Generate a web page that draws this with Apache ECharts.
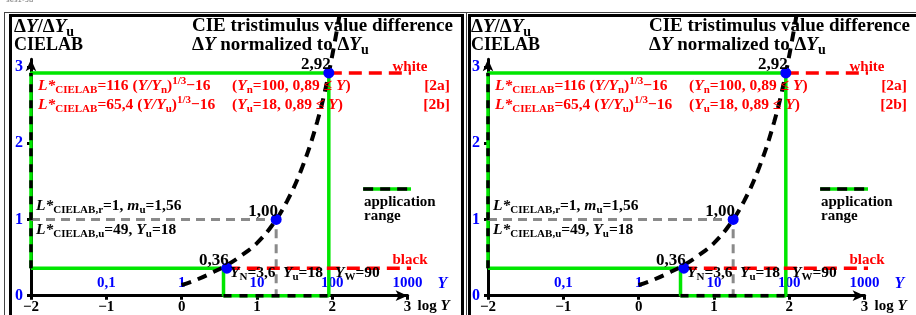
<!DOCTYPE html>
<html>
<head>
<meta charset="utf-8">
<script src="https://cdn.jsdelivr.net/npm/echarts@6/dist/echarts.min.js"></script>
<style>
  html, body { margin: 0; padding: 0; background: #fff; }
  #chart { width: 916px; height: 315px; }
</style>
</head>
<body>
<div id="chart"></div>
<script>
// values (x = log Y, y = dY/dYu)
const logYTicks = [-2, -1, 0, 1, 2, 3];
const logYLabels = ['\u22122', '\u22121', '0', '1', '2', '3'];
const yTicks = [0, 1, 2, 3];
const linearYTicks = [-1, 0, 1, 2, 3];
const linearYLabels = ['0,1', '1', '10', '100', '1000'];

const curveLogY = [0.0, 0.2, 0.4, 0.6, 0.8, 1.0, 1.2, 1.4, 1.6, 1.8, 1.95, 2.1];
const curveRatio = [0.14, 0.21, 0.30, 0.40, 0.53, 0.69, 0.92, 1.24, 1.68, 2.28, 2.90, 3.70];

const pointLogY = [0.6, 1.255, 1.954];
const pointRatio = [0.36, 1.00, 2.92];
const pointLabels = ['0,36', '1,00', '2,92'];

// application range outline
const rangeLogY = [-2, 0.556, 0.556, 1.954, 1.954, -2, -2];
const rangeRatio = [0.36, 0.36, 0, 0, 2.92, 2.92, 0.36];
const rangeOnYAxis = [[-2, 0.36], [-2, 2.92]];
const rangeOnXAxis = [[0.556, 0], [1.954, 0]];

const whiteLevel = [[1.954, 2.92], [3.5, 2.92]];
const blackLevel = [[0.6, 0.36], [3.5, 0.36]];
const greyGuide = [[-2, 1], [1.255, 1], [1.255, 0]];
const legendSample = [[2.41, 1.40], [3.43, 1.40]];

const FONT = 'Liberation Serif';
const GREEN = '#00e600', RED = '#ff0000', BLUE = '#0000ff', GREY = '#8a8a8a';
const PANEL_DX = [0, 457];
const X0 = 31, XW = 376.6, Y0 = 295.7, YPX = 76.3, YMAX = 3.1;

const zip = (a, b) => a.map((v, k) => [v, b[k]]);

// rich styles for zrender text (graphic)
function richZ(color, size) {
    const s = Math.round(size * 0.72);
    const base = { fontFamily: FONT, fontWeight: 'bold', fontSize: size, fill: color, lineHeight: size + 2 };
    return {
        b: base,
        i: Object.assign({}, base, { fontStyle: 'italic' }),
        d: Object.assign({}, base, { fontSize: s, lineHeight: s, padding: [Math.round(size * 0.5), 0, 0, 0] }),
        u: Object.assign({}, base, { fontSize: s, lineHeight: s, padding: [0, 0, Math.round(size * 0.6), 0] })
    };
}

function txt(dx, x, y, text, color, size, align) {
    return {
        type: 'text', z: 50, x: x + dx, y: y,
        style: {
            text: text, rich: richZ(color, size), fill: color,
            font: 'bold ' + size + 'px "' + FONT + '"',
            align: align || 'left', verticalAlign: 'middle'
        }
    };
}

const grids = [], xAxes = [], yAxes = [], series = [], graphics = [];

// frames
graphics.push({ type: 'line', z: 1, shape: { x1: 4, y1: 12.5, x2: 916, y2: 12.5 }, style: { stroke: '#444', lineWidth: 1 } });
graphics.push({ type: 'line', z: 1, shape: { x1: 4.5, y1: 12, x2: 4.5, y2: 315 }, style: { stroke: '#444', lineWidth: 1 } });
graphics.push({ type: 'rect', z: 1, shape: { x: 10.5, y: 15.5, width: 452, height: 320 }, style: { fill: null, stroke: '#000', lineWidth: 3 } });
graphics.push({ type: 'line', z: 1, shape: { x1: 466.5, y1: 12, x2: 466.5, y2: 315 }, style: { stroke: '#444', lineWidth: 1 } });
graphics.push({ type: 'rect', z: 1, shape: { x: 469.5, y: 15.5, width: 460, height: 320 }, style: { fill: null, stroke: '#000', lineWidth: 3 } });
graphics.push({ type: 'text', z: 1, x: 6, y: -3, style: { text: 'ses1-3a', fill: '#777', font: '7px "DejaVu Sans"' } });

function panel(i) {
    const dx = PANEL_DX[i];
    const xi = 2 * i, yi = i;
    grids.push({ left: X0 + dx, top: Y0 - YMAX * YPX, width: XW, height: YMAX * YPX });

    xAxes.push({
        gridIndex: i, type: 'value', min: -2, max: 3, interval: 1, position: 'bottom',
        axisLine: { onZero: false, symbol: ['none', 'arrow'], symbolSize: [8, 12], lineStyle: { color: '#000', width: 3 } },
        axisTick: { length: 4, lineStyle: { color: '#000', width: 3 } },
        axisLabel: {
            margin: 4, color: '#000', fontFamily: FONT, fontWeight: 'bold', fontSize: 15, showMaxLabel: true,
            formatter: v => { const k = logYTicks.indexOf(v); return k < 0 ? '' : logYLabels[k]; }
        },
        splitLine: { show: false },
        name: '{b|log }{i|Y}', nameLocation: 'end', nameGap: 10,
        nameTextStyle: {
            align: 'left', verticalAlign: 'top', padding: [3, 0, 0, 0],
            rich: {
                b: { fontFamily: FONT, fontWeight: 'bold', fontSize: 15, color: '#000' },
                i: { fontFamily: FONT, fontWeight: 'bold', fontStyle: 'italic', fontSize: 15, color: '#000' }
            }
        }
    });
    xAxes.push({
        gridIndex: i, type: 'value', min: -2, max: 3, interval: 1, position: 'top', offset: -(YMAX * YPX),
        axisLine: { show: false, onZero: false }, axisTick: { show: false }, splitLine: { show: false },
        axisLabel: {
            margin: 5, color: BLUE, fontFamily: FONT, fontWeight: 'bold', fontSize: 15, showMaxLabel: true,
            formatter: v => { const k = linearYTicks.indexOf(v); return k < 0 ? '' : linearYLabels[k]; }
        },
        name: 'Y', nameLocation: 'end', nameGap: 30,
        nameTextStyle: { color: BLUE, fontFamily: FONT, fontWeight: 'bold', fontStyle: 'italic', fontSize: 16, align: 'left', verticalAlign: 'bottom', padding: [0, 0, 4, 0] }
    });
    yAxes.push({
        gridIndex: i, type: 'value', min: 0, max: YMAX, interval: 1,
        axisLine: { onZero: false, symbol: ['none', 'arrow'], symbolSize: [8, 12], lineStyle: { color: '#000', width: 3 } },
        axisTick: { length: 4, lineStyle: { color: '#000', width: 3 } },
        axisLabel: {
            margin: 8, color: BLUE, fontFamily: FONT, fontWeight: 'bold', fontSize: 16, showMaxLabel: false,
            formatter: v => yTicks.includes(v) ? String(v) : ''
        },
        splitLine: { show: false }
    });

    const ax = { xAxisIndex: xi, yAxisIndex: yi, clip: false, symbol: 'none', silent: true };
    series.push(Object.assign({ type: 'line', z: 3, data: zip(rangeLogY, rangeRatio),
        lineStyle: { color: GREEN, width: 3.5 } }, ax));
    series.push(Object.assign({ type: 'line', z: 4, data: rangeOnYAxis,
        lineStyle: { color: '#000', width: 3.5, type: [8, 8] } }, ax));
    series.push(Object.assign({ type: 'line', z: 4, data: rangeOnXAxis,
        lineStyle: { color: '#000', width: 3.5, type: [8, 8] } }, ax));
    series.push(Object.assign({ type: 'line', z: 3, data: legendSample,
        lineStyle: { color: GREEN, width: 3.5 } }, ax));
    series.push(Object.assign({ type: 'line', z: 4, data: legendSample,
        lineStyle: { color: '#000', width: 3.5, type: [10, 7] } }, ax));
    series.push(Object.assign({ type: 'line', z: 3, data: greyGuide,
        lineStyle: { color: GREY, width: 3, type: [9, 6] } }, ax));
    series.push(Object.assign({ type: 'line', z: 3, data: whiteLevel,
        lineStyle: { color: RED, width: 3.5, type: [13, 7] } }, ax));
    series.push(Object.assign({ type: 'line', z: 3, data: blackLevel,
        lineStyle: { color: RED, width: 3.5, type: [13, 7] } }, ax));
    series.push(Object.assign({ type: 'line', z: 5, smooth: 0.4, data: zip(curveLogY, curveRatio),
        lineStyle: { color: '#000', width: 4, type: [10, 7] } }, ax));
    series.push({
        type: 'scatter', xAxisIndex: xi, yAxisIndex: yi, z: 6, silent: true,
        symbolSize: 11, itemStyle: { color: BLUE, opacity: 1 },
        data: pointLogY.map((v, k) => ({ value: [v, pointRatio[k]], name: pointLabels[k] })),
        label: {
            show: true, formatter: '{b}', position: 'inside', offset: [-13, -8],
            color: '#000', textBorderWidth: 0, fontFamily: FONT, fontWeight: 'bold', fontSize: 17
        }
    });

    // texts
    graphics.push(txt(dx, 14, 27, '{b|\u0394}{i|Y}{b|/\u0394}{i|Y}{d|u}', '#000', 19));
    graphics.push(txt(dx, 14, 45, '{b|CIELAB}', '#000', 18));
    graphics.push(txt(dx, 192, 26, '{b|CIE tristimulus value difference}', '#000', 19));
    graphics.push(txt(dx, 192, 45, '{b|\u0394}{i|Y}{b| normalized to \u0394}{i|Y}{d|u}', '#000', 19));

    graphics.push(txt(dx, 38, 86, '{i|L*}{d|CIELAB}{b|=116 (}{i|Y/Y}{d|n}{b|)}{u|1/3}{b|\u221216}', RED, 15.5));
    graphics.push(txt(dx, 232, 86, '{b|(}{i|Y}{d|n}{b|=100, 0,89 \u2264 }{i|Y}{b|)}', RED, 15.5));
    graphics.push(txt(dx, 450, 86, '{b|[2a]}', RED, 15.5, 'right'));
    graphics.push(txt(dx, 38, 105, '{i|L*}{d|CIELAB}{b|=65,4 (}{i|Y/Y}{d|u}{b|)}{u|1/3}{b|\u221216}', RED, 15.5));
    graphics.push(txt(dx, 232, 105, '{b|(}{i|Y}{d|u}{b|=18, 0,89 \u2264 }{i|Y}{b|)}', RED, 15.5));
    graphics.push(txt(dx, 450, 105, '{b|[2b]}', RED, 15.5, 'right'));
    graphics.push(txt(dx, 410, 67, '{b|white}', RED, 15, 'center'));
    graphics.push(txt(dx, 410, 260, '{b|black}', RED, 15, 'center'));

    graphics.push(txt(dx, 36, 206, '{i|L*}{d|CIELAB,r}{b|=1, }{i|m}{d|u}{b|=1,56}', '#000', 15.5));
    graphics.push(txt(dx, 36, 230, '{i|L*}{d|CIELAB,u}{b|=49, }{i|Y}{d|u}{b|=18}', '#000', 15.5));
    graphics.push(txt(dx, 230, 273, '{i|Y}{d|N}{b|=3,6}', '#000', 15.5));
    graphics.push(txt(dx, 283, 273, '{i|Y}{d|u}{b|=18}', '#000', 15.5));
    graphics.push(txt(dx, 335, 273, '{i|Y}{d|W}{b|=90}', '#000', 15.5));
    graphics.push(txt(dx, 364, 202, '{b|application}', '#000', 15));
    graphics.push(txt(dx, 364, 216, '{b|range}', '#000', 15));
}

panel(0);
panel(1);

const chart = echarts.init(document.getElementById('chart'), null, { renderer: 'canvas' });
chart.setOption({
    animation: false,
    backgroundColor: '#fff',
    grid: grids,
    xAxis: xAxes,
    yAxis: yAxes,
    series: series,
    graphic: graphics
});
</script>
</body>
</html>
